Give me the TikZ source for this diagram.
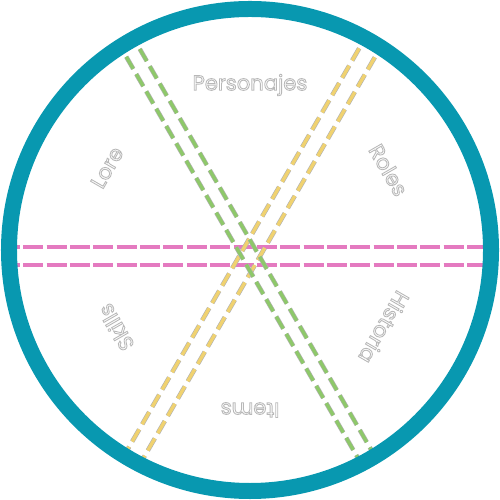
\documentclass[tikz,border=0pt]{standalone}
\usepackage{fontspec}
\setmainfont{Poppins}
\usepackage{tikz}
\usetikzlibrary{arrows}
\definecolor{ringteal}{RGB}{8,152,176}
\definecolor{cutpink}{RGB}{228,122,192}
\definecolor{cutgreen}{RGB}{142,200,106}
\definecolor{cutyellow}{RGB}{240,210,112}
\newcommand{\hollow}[1]{\special{pdf:literal direct 1 Tr 0.5 w}#1\special{pdf:literal direct 0 Tr}}
\tikzstyle{ring}=[draw=ringteal,line width=0.32cm]
\tikzstyle{cut}=[line width=0.35pt,draw=black!30,double distance=1.9pt,dash pattern=on 0.28cm off 0.12cm]
\tikzstyle{label}=[text=black!28,font=\fontsize{12}{14}\selectfont,inner sep=0pt]

\begin{document}
\begin{tikzpicture}[scale=1]
      \useasboundingbox (-5,-5) rectangle (5,5);
      \tikzset{pinkcut/.style = {cut,double=cutpink,dash pattern=on 0.4cm off 0.067cm}}
      \begin{scope}
      \clip (0,0) circle (4.82);
      % horizontal pair
      \draw[pinkcut] (-5,0.06) -- (5,0.06);
      \draw[pinkcut] (-5,-0.3) -- (5,-0.3);
      % rising pair
      \draw[cut,double=cutyellow,shift={(0,-0.11)},rotate=60] (-6,0.18) -- (6,0.18);
      \draw[cut,double=cutyellow,shift={(0,-0.11)},rotate=60] (-6,-0.18) -- (6,-0.18);
      % falling pair
      \draw[cut,double=cutgreen,shift={(0,-0.11)},rotate=120] (-6,0.156) -- (6,0.156);
      \draw[cut,double=cutgreen,shift={(0,-0.11)},rotate=120] (-6,-0.156) -- (6,-0.156);
      \end{scope}
      \draw[ring] (0,0) circle (4.82);
      \node[label,rotate=0] (personajes) at (90:3.3) {\hollow{Personajes}};
      \node[label,rotate=-60] (roles) at (30:3.2) {\hollow{Roles}};
      \node[label,rotate=-120] (historia) at (-30:3.1) {\hollow{Historia}};
      \node[label,rotate=180] (items) at (-90:3.2) {\hollow{Items}};
      \node[label,rotate=120] (skills) at (-150:3.1) {\hollow{Skills}};
      \node[label,rotate=60] (lore) at (150:3.3) {\hollow{Lore}};
    \end{tikzpicture}
\end{document}
